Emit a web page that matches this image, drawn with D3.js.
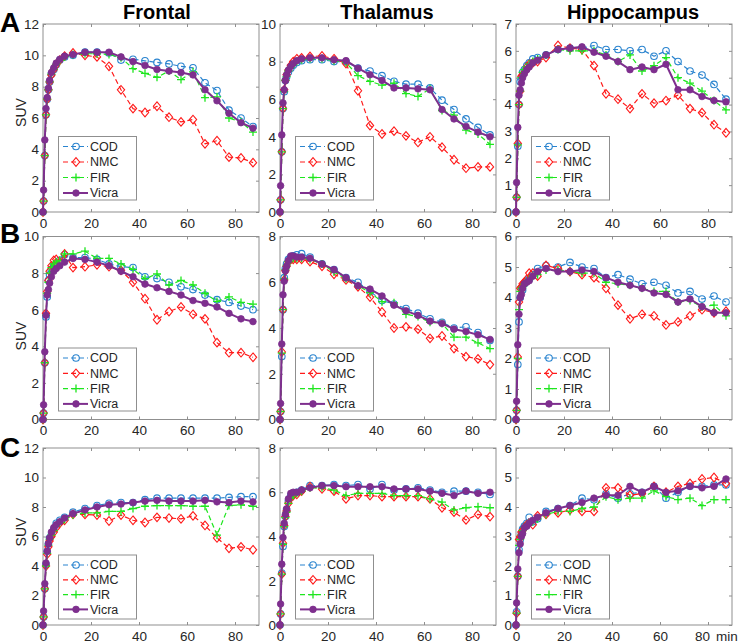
<!DOCTYPE html>
<html><head><meta charset="utf-8">
<script src="https://cdn.jsdelivr.net/npm/d3@7"></script>
<style>
body{margin:0;background:#fff}
svg{display:block}
text{font-family:"Liberation Sans",Arial,Helvetica,sans-serif}
</style>
</head><body>
<svg id="chart" width="740" height="643"></svg>
<script>
// ---------------- DATA ----------------
const times = [0,0.25,0.75,1.25,1.75,2.25,2.75,3.5,4.5,5.5,7,9,12.5,17.5,22.5,27.5,32.5,37.5,42.5,47.5,52.5,57.5,62.5,67.5,72.5,77.5,82.5,87.5];
const seriesNames = ["COD","NMC","FIR","Vicra"];
const regionNames = ["Frontal","Thalamus","Hippocampus"];
const rowLabels = ["A","B","C"];
const xTickValues = [0,20,40,60,80];
const yMaxFrontal = [12,10,12];
const yMaxThalamus = [10,8,8];
const yMaxHippocampus = [7,6,6];

// Row A
const frontalA_COD   = [0,0.7,3.6,6.2,7.2,7.8,8.3,8.8,9.1,9.4,9.7,9.9,10.0,10.2,10.2,10.15,9.7,9.75,9.65,9.55,9.45,9.3,9.2,8.25,7.75,6.5,6.0,5.45];
const frontalA_NMC   = [0,0.7,3.6,6.2,7.2,7.8,8.3,8.75,9.1,9.4,9.7,9.95,10.15,10.0,9.9,9.3,7.8,6.6,6.35,6.75,6.05,5.75,5.9,4.35,4.55,3.5,3.45,3.15];
const frontalA_FIR   = [0,0.7,3.6,6.2,7.2,7.8,8.3,8.8,9.1,9.4,9.7,9.9,10.05,10.1,10.1,10.05,9.85,9.15,8.85,8.6,9.0,8.45,8.95,7.3,7.35,6.0,5.75,5.1];
const frontalA_Vicra = [0,1.4,4.6,6.6,7.3,7.9,8.4,8.9,9.2,9.5,9.75,9.95,10.05,10.2,10.2,10.2,9.9,9.6,9.35,9.1,9.0,8.9,8.75,7.8,7.1,6.3,5.7,5.35];

const thalamusA_COD   = [0,0.65,3.2,5.5,6.4,7.0,7.2,7.45,7.65,7.8,7.95,8.05,8.1,8.1,8.0,8.0,7.65,7.5,7.25,6.95,6.8,6.8,6.6,5.95,5.45,4.95,4.5,4.1];
const thalamusA_NMC   = [0,0.65,3.2,5.5,6.5,7.0,7.3,7.55,7.8,8.0,8.15,8.2,8.27,8.3,8.15,7.9,6.45,4.6,4.15,4.3,4.05,3.7,4.0,3.45,2.78,2.33,2.4,2.4];
const thalamusA_FIR   = [0,0.65,3.2,5.5,6.4,7.0,7.2,7.5,7.7,7.85,8.0,8.1,8.15,8.15,8.05,7.95,7.25,6.95,6.75,6.85,6.3,6.15,6.55,5.4,5.15,4.35,4.15,3.6];
const thalamusA_Vicra = [0,1.4,4.1,5.8,6.5,7.0,7.3,7.55,7.75,7.9,8.05,8.15,8.2,8.2,8.1,8.05,7.65,7.3,7.0,6.6,6.6,6.55,6.5,5.45,4.95,4.55,4.25,4.0];

const hippocampusA_COD   = [0,0.55,2.45,4.0,4.85,5.0,5.2,5.3,5.45,5.55,5.7,5.75,5.85,6.05,6.1,6.1,6.2,6.05,6.05,6.0,6.05,5.8,6.0,5.6,5.25,5.1,4.75,4.2];
const hippocampusA_NMC   = [0,0.55,2.55,4.0,4.5,5.05,5.1,5.2,5.4,5.5,5.55,5.6,5.75,6.2,6.1,6.05,5.45,4.4,4.2,3.85,4.4,4.05,4.15,4.35,3.85,3.7,3.25,2.95];
const hippocampusA_FIR   = [0,0.55,2.5,4.0,4.5,5.0,5.2,5.3,5.4,5.5,5.6,5.7,5.85,6.05,6.0,6.0,6.0,5.85,5.6,5.85,5.25,5.45,5.75,5.0,4.8,4.5,4.15,3.8];
const hippocampusA_Vicra = [0,1.1,3.15,4.35,4.55,4.8,5.0,5.15,5.3,5.4,5.55,5.65,5.85,6.05,6.1,6.15,5.95,5.8,5.6,5.3,5.4,5.3,5.5,4.55,4.55,4.3,4.15,4.1];

// Row B
const frontalB_COD   = [0,0.35,3.1,5.6,6.7,7.6,7.9,8.2,8.4,8.5,8.7,9.0,8.85,8.85,8.75,8.5,8.35,8.3,7.8,7.7,7.5,7.25,7.1,6.8,6.55,6.4,6.2,6.0];
const frontalB_NMC   = [0,0.35,3.1,5.8,7.0,7.6,8.1,8.4,8.7,8.75,8.6,9.05,8.3,8.35,8.45,8.35,8.15,7.5,6.6,5.45,5.9,6.15,5.75,5.5,4.2,3.65,3.65,3.4];
const frontalB_FIR   = [0,0.35,3.1,5.7,6.9,7.5,8.0,8.3,8.5,8.6,8.7,9.05,9.05,9.2,8.8,8.8,8.5,8.2,7.7,7.95,7.35,7.6,7.35,6.9,6.45,6.7,6.4,6.3];
const frontalB_Vicra = [0,0.8,3.7,5.7,6.8,7.1,7.45,7.8,8.1,8.25,8.4,8.6,8.8,8.75,8.6,8.4,8.1,7.8,7.4,7.2,7.0,6.8,6.5,6.35,6.15,5.8,5.5,5.35];

const thalamusB_COD   = [0,0.35,2.75,4.8,6.2,6.6,6.8,7.0,7.1,7.15,7.2,7.25,7.1,6.8,6.55,6.2,6.0,5.6,5.2,5.05,4.85,4.65,4.4,4.25,4.0,4.05,3.8,3.45];
const thalamusB_NMC   = [0,0.35,2.95,4.8,6.1,6.5,6.7,6.9,7.0,7.0,7.0,7.0,6.9,6.7,6.35,6.1,5.8,5.35,4.7,4.0,4.05,3.95,3.55,3.65,3.1,2.75,2.65,2.4];
const thalamusB_FIR   = [0,0.35,2.9,4.8,6.15,6.55,6.75,6.9,7.0,7.05,7.05,7.05,7.0,6.8,6.45,6.15,5.85,5.55,5.15,5.1,4.6,4.5,4.25,4.2,3.6,3.6,3.35,3.1];
const thalamusB_Vicra = [0,0.7,3.3,5.45,6.05,6.5,6.7,6.95,7.15,7.15,7.1,7.1,7.05,6.8,6.55,6.2,5.85,5.7,5.4,5.0,4.75,4.55,4.3,4.2,3.95,3.85,3.7,3.5];

const hippocampusB_COD   = [0,0.3,1.8,3.2,4.0,4.3,4.25,4.45,4.55,4.6,4.75,4.95,5.05,5.0,5.15,5.0,4.95,4.65,4.75,4.6,4.45,4.5,4.4,4.15,4.2,3.95,4.05,3.85];
const hippocampusB_NMC   = [0,0.3,2.05,3.85,4.3,4.35,4.45,4.5,4.6,4.8,4.8,4.7,5.05,4.95,4.85,4.75,4.65,4.3,3.75,3.3,3.45,3.4,3.1,3.2,3.4,3.6,3.5,3.55];
const hippocampusB_FIR   = [0,0.3,2.0,3.6,4.2,4.3,4.35,4.45,4.5,4.6,4.7,4.75,4.9,4.9,4.85,4.8,4.8,4.5,4.45,4.4,4.3,4.2,4.2,3.85,3.9,3.7,3.75,3.4];
const hippocampusB_Vicra = [0,0.6,2.45,3.45,4.0,4.1,4.3,4.45,4.5,4.55,4.7,4.85,4.95,4.85,4.85,4.9,4.85,4.65,4.5,4.4,4.3,4.15,4.1,3.85,3.95,3.7,3.5,3.5];

// Row C
const frontalC_COD   = [0,0.55,2.45,4.1,5.0,5.5,5.9,6.1,6.5,6.9,7.1,7.3,7.65,7.9,8.1,8.25,8.3,8.3,8.5,8.6,8.6,8.6,8.6,8.6,8.6,8.65,8.7,8.7];
const frontalC_NMC   = [0,0.55,2.45,4.0,4.8,5.3,5.7,6.0,6.3,6.6,6.9,7.1,7.5,7.5,7.45,7.05,7.45,7.1,6.95,7.3,7.25,7.2,7.4,6.75,5.9,5.2,5.3,5.1];
const frontalC_FIR   = [0,0.55,2.45,4.0,4.85,5.4,5.8,6.1,6.4,6.7,6.95,7.15,7.45,7.6,7.6,7.7,7.7,7.9,8.05,8.1,8.1,8.1,8.05,8.05,6.1,8.1,8.15,8.05];
const frontalC_Vicra = [0,0.95,2.8,4.2,5.0,5.5,5.9,6.3,6.6,6.8,7.0,7.25,7.55,7.8,8.0,8.15,8.2,8.3,8.4,8.45,8.4,8.4,8.4,8.45,8.35,8.3,8.4,8.35];

const thalamusC_COD   = [0,0.5,2.35,3.55,4.45,4.9,5.2,5.6,5.85,5.9,6.0,6.1,6.3,6.3,6.35,6.3,6.35,6.15,6.35,6.1,6.15,6.2,6.1,6.0,6.05,6.05,6.0,5.9];
const thalamusC_NMC   = [0,0.5,2.3,3.7,4.5,4.9,5.15,5.5,5.75,5.85,5.9,6.05,6.25,6.15,6.05,5.7,5.85,5.85,5.8,5.8,5.8,5.8,5.7,5.3,5.1,4.75,5.0,4.9];
const thalamusC_FIR   = [0,0.5,2.3,3.65,4.45,4.85,5.1,5.5,5.75,5.85,5.95,6.05,6.2,6.2,6.1,5.85,5.95,5.95,5.95,5.85,5.85,5.85,5.7,5.55,5.2,5.3,5.35,5.3];
const thalamusC_Vicra = [0,0.95,2.75,3.95,4.6,5.0,5.25,5.7,5.95,6.0,6.0,6.1,6.2,6.3,6.3,6.25,6.25,6.25,6.25,6.15,6.15,6.15,6.05,5.95,5.85,6.05,5.95,6.0];

const hippocampusC_COD   = [0,0.45,1.65,2.55,2.9,3.1,3.25,3.35,3.45,3.65,3.5,3.6,3.85,3.95,4.05,4.3,4.25,4.45,4.3,4.45,4.5,4.7,4.3,4.5,4.7,4.7,4.75,4.75];
const hippocampusC_NMC   = [0,0.4,1.65,2.9,3.0,3.15,3.2,3.3,3.4,3.45,3.4,3.7,3.75,3.8,3.9,3.85,3.85,4.65,4.65,4.4,4.45,4.7,4.5,4.7,4.8,4.95,5.0,4.8];
const hippocampusC_FIR   = [0,0.4,1.65,2.7,2.9,3.05,3.2,3.3,3.4,3.45,3.5,3.6,3.75,3.85,3.85,3.95,4.0,4.35,4.25,4.3,4.3,4.55,4.35,4.25,4.3,4.05,4.25,4.25];
const hippocampusC_Vicra = [0,0.75,1.9,2.45,2.75,3.0,3.1,3.3,3.35,3.45,3.55,3.65,3.8,3.95,4.05,4.15,4.3,4.4,4.4,4.7,4.5,4.7,4.5,4.55,4.7,4.65,4.7,4.95];

// ---------------- ASSEMBLY ----------------
const panelSeries = [
  [[frontalA_COD,frontalA_NMC,frontalA_FIR,frontalA_Vicra],
   [thalamusA_COD,thalamusA_NMC,thalamusA_FIR,thalamusA_Vicra],
   [hippocampusA_COD,hippocampusA_NMC,hippocampusA_FIR,hippocampusA_Vicra]],
  [[frontalB_COD,frontalB_NMC,frontalB_FIR,frontalB_Vicra],
   [thalamusB_COD,thalamusB_NMC,thalamusB_FIR,thalamusB_Vicra],
   [hippocampusB_COD,hippocampusB_NMC,hippocampusB_FIR,hippocampusB_Vicra]],
  [[frontalC_COD,frontalC_NMC,frontalC_FIR,frontalC_Vicra],
   [thalamusC_COD,thalamusC_NMC,thalamusC_FIR,thalamusC_Vicra],
   [hippocampusC_COD,hippocampusC_NMC,hippocampusC_FIR,hippocampusC_Vicra]]
];
const yMaxByCol = [yMaxFrontal, yMaxThalamus, yMaxHippocampus];

// ---------------- LAYOUT / STYLE ----------------
const colLeft = [43, 280, 516];
const plotW = 216;
const rowTopBottom = [[24, 212], [236.5, 419.5], [448, 625]];
const titleX = [157, 387, 633];
const suvY = [112.5, 336, 532];
const letterY = [32, 243, 457];
const legendRow = [
  {top: 136.5, bottom: 200, first: 146.5, step: 15.5},
  {top: 348, bottom: 411, first: 358, step: 15.3},
  {top: 555, bottom: 619, first: 565, step: 14.8}
];
const colors = {COD: "#2a84cf", NMC: "#ff1a1a", FIR: "#1ee61e", Vicra: "#7e2f8e"};
const textColor = "#262626";
const boxColor = "#8f8f8f";

const svg = d3.select("#chart");
svg.append("rect").attr("width", 740).attr("height", 643).attr("fill", "#fff");

function drawMarker(g, name, x, y) {
  const c = colors[name];
  if (name === "COD") {
    g.append("circle").attr("cx", x).attr("cy", y).attr("r", 3.3)
      .attr("fill", "none").attr("stroke", c).attr("stroke-width", 1.1);
  } else if (name === "NMC") {
    const s = 4.3;
    g.append("path").attr("d", `M${x},${y - s}L${x + s * 0.85},${y}L${x},${y + s}L${x - s * 0.85},${y}Z`)
      .attr("fill", "none").attr("stroke", c).attr("stroke-width", 1.1);
  } else if (name === "FIR") {
    const s = 4;
    g.append("path").attr("d", `M${x - s},${y}H${x + s}M${x},${y - s}V${y + s}`)
      .attr("fill", "none").attr("stroke", c).attr("stroke-width", 1.3);
  } else {
    g.append("circle").attr("cx", x).attr("cy", y).attr("r", 3.3)
      .attr("fill", c).attr("stroke", c).attr("stroke-width", 0.8);
  }
}
function lineStyle(sel, name) {
  sel.attr("fill", "none").attr("stroke", colors[name])
    .attr("stroke-width", name === "Vicra" ? 2 : 1.2)
    .attr("stroke-dasharray", name === "Vicra" ? null : "5,3")
    .attr("stroke-linejoin", "round");
}

// titles
regionNames.forEach((r, i) => {
  svg.append("text").attr("x", titleX[i]).attr("y", 18.5).attr("text-anchor", "middle")
    .attr("font-size", 20).attr("font-weight", "bold").attr("fill", "#000").text(r);
});

for (let ri = 0; ri < 3; ri++) {
  const [top, bottom] = rowTopBottom[ri];
  // panel letter
  svg.append("text").attr("x", 0).attr("y", letterY[ri]).attr("font-size", 28)
    .attr("font-weight", "bold").attr("fill", "#000").text(rowLabels[ri]);
  // SUV label
  svg.append("text").attr("transform", `translate(26,${suvY[ri]}) rotate(-90)`)
    .attr("text-anchor", "middle").attr("font-size", 14).attr("fill", textColor).text("SUV");

  for (let ci = 0; ci < 3; ci++) {
    const left = colLeft[ci];
    const yMax = yMaxByCol[ci][ri];
    const x = d3.scaleLinear().domain([0, 90]).range([left, left + plotW]);
    const y = d3.scaleLinear().domain([0, yMax]).range([bottom, top]);
    const yStep = yMax <= 7 ? 1 : 2;
    const yTickValues = d3.range(0, yMax + 0.001, yStep);
    const g = svg.append("g");

    // box
    g.append("rect").attr("x", left).attr("y", top).attr("width", plotW).attr("height", bottom - top)
      .attr("fill", "#fff").attr("stroke", boxColor).attr("stroke-width", 1);

    // axes
    const axB = g.append("g").attr("transform", `translate(0,${bottom})`)
      .call(d3.axisBottom(x).tickValues(xTickValues).tickFormat(d3.format("d"))
        .tickSizeInner(-3).tickSizeOuter(0).tickPadding(6));
    const axT = g.append("g").attr("transform", `translate(0,${top})`)
      .call(d3.axisTop(x).tickValues(xTickValues).tickSizeInner(-3).tickSizeOuter(0).tickFormat(""));
    const axL = g.append("g").attr("transform", `translate(${left},0)`)
      .call(d3.axisLeft(y).tickValues(yTickValues).tickFormat(d3.format("d"))
        .tickSizeInner(-3).tickSizeOuter(0).tickPadding(4));
    const axR = g.append("g").attr("transform", `translate(${left + plotW},0)`)
      .call(d3.axisRight(y).tickValues(yTickValues).tickSizeInner(-3).tickSizeOuter(0).tickFormat(""));
    [axB, axT, axL, axR].forEach(a => {
      a.select(".domain").remove();
      a.selectAll(".tick line").attr("stroke", boxColor);
      a.selectAll("text").attr("font-size", 13.5).attr("fill", textColor)
        .attr("font-family", '"Liberation Sans",Arial,sans-serif');
    });
    // last panel: the "80" label sits a little left to leave room for the unit
    if (ri === 2 && ci === 2) {
      axB.selectAll(".tick").filter(d => d === 80).select("text").attr("dx", -6);
    }

    // series
    const data = panelSeries[ri][ci];
    seriesNames.forEach((name, si) => {
      const vals = data[si];
      const pts = times.map((t, k) => [t, vals[k]]);
      const line = d3.line().x(d => x(d[0])).y(d => y(d[1]));
      g.append("path").datum(pts).attr("d", line).call(lineStyle, name);
      const mg = g.append("g");
      pts.forEach(p => drawMarker(mg, name, x(p[0]), y(p[1])));
    });

    // legend
    const L = legendRow[ri];
    const lx = left + 15, lw = 78;
    const lg = g.append("g");
    lg.append("rect").attr("x", lx + 0.5).attr("y", L.top).attr("width", lw).attr("height", L.bottom - L.top)
      .attr("fill", "#fff").attr("stroke", boxColor).attr("stroke-width", 1);
    seriesNames.forEach((name, si) => {
      const yy = L.first + si * L.step;
      lg.append("path").attr("d", `M${lx + 5},${yy}H${lx + 30}`).call(lineStyle, name);
      drawMarker(lg, name, lx + 18, yy);
      lg.append("text").attr("x", lx + 32).attr("y", yy).attr("dy", "0.35em")
        .attr("font-size", 12.5).attr("fill", textColor).text(name);
    });
  }
}
// x-axis unit label
svg.append("text").attr("x", 716).attr("y", 641).attr("font-size", 13.5).attr("fill", textColor).text("min");
</script>
</body></html>
